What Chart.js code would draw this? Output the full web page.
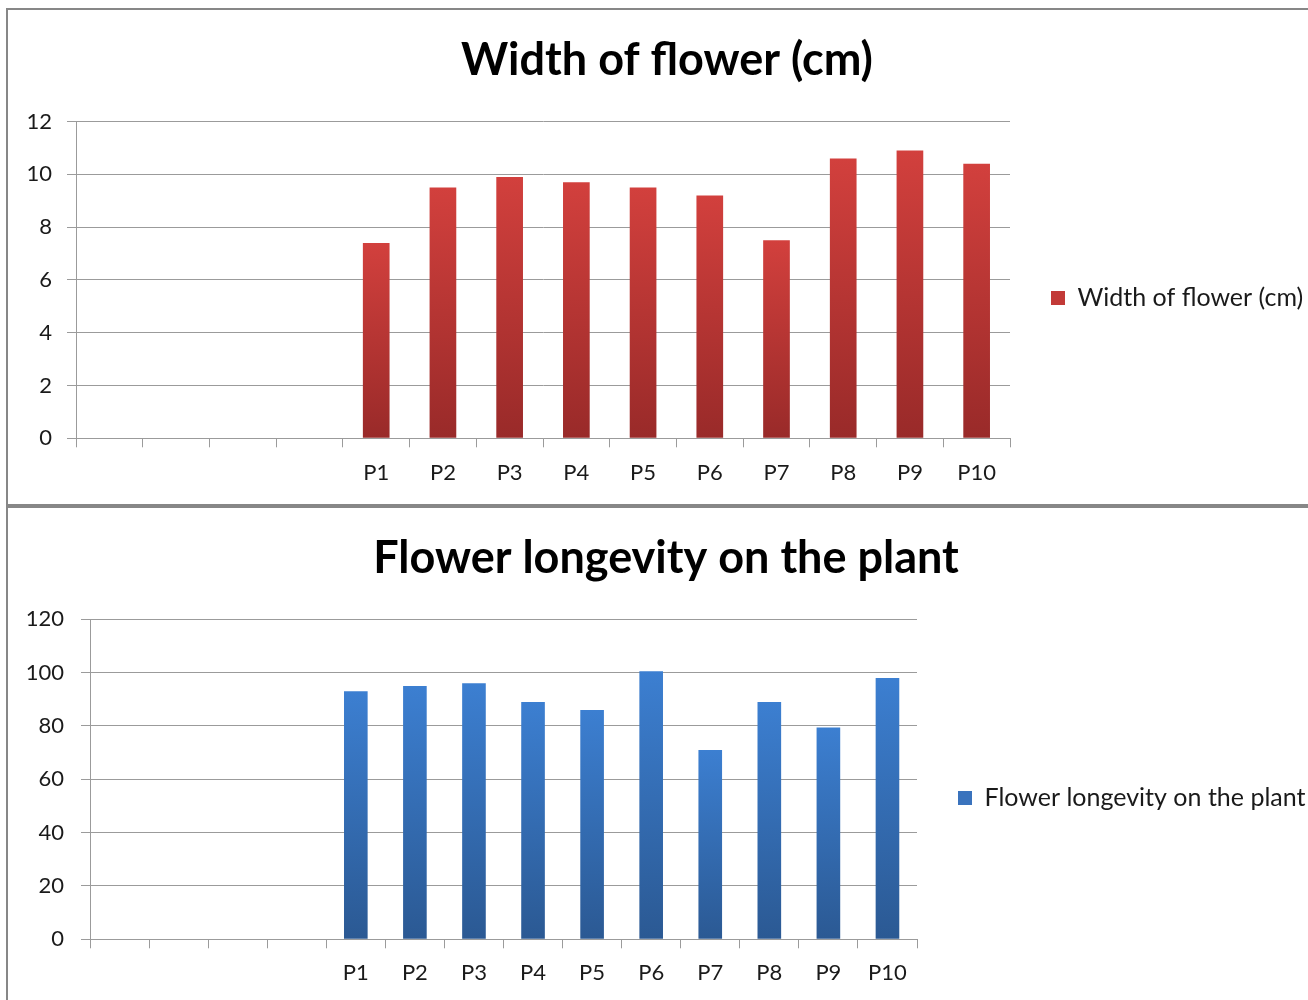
<!DOCTYPE html>
<html><head><meta charset="utf-8">
<script src="https://cdn.jsdelivr.net/npm/chart.js@4.4.1/dist/chart.umd.min.js"></script>
<style>
html,body{margin:0;padding:0;background:#fff;overflow:hidden;width:1308px;height:1000px;}
.panel{position:absolute;left:6px;border:2px solid #878787;background:#fff;overflow:hidden;}
#p1{top:8px;width:1330px;height:494px;}
#p2{top:506px;width:1330px;height:500px;}
canvas{position:absolute;left:0;top:0;}
</style></head>
<body>
<div class="panel" id="p1"><canvas id="c1" width="1318" height="494"></canvas></div>
<div class="panel" id="p2"><canvas id="c2" width="1316" height="492"></canvas></div>
<script>
// ---- data ----
const categories = ['', '', '', '', 'P1', 'P2', 'P3', 'P4', 'P5', 'P6', 'P7', 'P8', 'P9', 'P10'];
const widthValues = [null, null, null, null, 7.4, 9.5, 9.9, 9.7, 9.5, 9.2, 7.5, 10.6, 10.9, 10.4];
const longevityValues = [null, null, null, null, 93, 95, 96, 89, 86, 100.5, 71, 89, 79.4, 98];
const widthTitle = 'Width of flower (cm)';
const longevityTitle = 'Flower longevity on the plant';
const widthAxis = [0, 12, 2];      // min, max, step
const longevityAxis = [0, 120, 20];

const FONT = 'Lato, "Open Sans", sans-serif';
const GRID = '#9b9b9b';
const TXT = '#1a1a1a';

function barGradient(top, bottom, solid) {
  return ctx => {
    if (ctx.type !== 'data') return solid;
    const chart = ctx.chart;
    const v = ctx.raw;
    if (v == null || !chart.chartArea) return solid;
    const ys = chart.scales.y;
    const y0 = ys.getPixelForValue(v), y1 = ys.getPixelForValue(0);
    if (!isFinite(y0) || !isFinite(y1)) return solid;
    const g = chart.ctx.createLinearGradient(0, y0, 0, y1);
    g.addColorStop(0, top);
    g.addColorStop(1, bottom);
    return g;
  };
}

function legendFix(width, shift) {
  return {
    id: 'legendFix',
    beforeLayout(chart) {
      const lg = chart.legend;
      if (lg && !lg._fixed) {
        const orig = lg.fit.bind(lg);
        lg.fit = function () { orig(); this.width = width; };
        lg._fixed = true;
      }
    },
    afterLayout(chart) {
      const lg = chart.legend;
      if (lg) { lg.top += shift; lg.bottom += shift; }
    }
  };
}

function makeChart(id, title, values, axis, colors, opts) {
  return new Chart(document.getElementById(id), {
    type: 'bar',
    data: {
      labels: categories,
      datasets: [{
        label: title,
        data: values,
        backgroundColor: barGradient(colors[0], colors[1], colors[2]),
        borderWidth: 0,
        barPercentage: 0.8,
        categoryPercentage: 0.5
      }]
    },
    options: {
      responsive: false,
      animation: false,
      layout: { padding: 0 },
      plugins: {
        title: {
          display: true, text: title, color: '#000',
          font: { family: FONT, size: 45, weight: 'bold' },
          padding: { top: 23, bottom: opts.titleBottom }
        },
        legend: {
          display: true, position: 'right', align: 'center',
          labels: {
            boxWidth: 14, boxHeight: 14, padding: 41, color: TXT,
            font: { family: FONT, size: 25 }
          }
        },
        tooltip: { enabled: false }
      },
      scales: {
        x: {
          offset: true,
          grid: { offset: true, drawOnChartArea: false, drawTicks: true, tickLength: 9, color: GRID, lineWidth: 1 },
          border: { color: GRID, width: 1 },
          ticks: { font: { family: FONT, size: 22 }, color: TXT, padding: opts.xPad, maxRotation: 0, autoSkip: false },
          afterFit: s => { s.height = opts.xHeight; }
        },
        y: {
          min: axis[0], max: axis[1],
          ticks: { stepSize: axis[2], font: { family: FONT, size: 22 }, color: TXT, padding: opts.yPad },
          grid: { color: GRID, lineWidth: 1, tickLength: 9, drawTicks: true },
          border: { color: GRID, width: 1 },
          afterFit: s => { s.width = opts.yWidth; }
        }
      }
    },
    plugins: [legendFix(opts.legendWidth, opts.legendShift)]
  });
}

makeChart('c1', widthTitle, widthValues, widthAxis, ['#d2403d', '#992a29', '#c23a37'],
  { titleBottom: 34.5, xPad: 12.5, xHeight: 65.7, yPad: 15, yWidth: 68, legendWidth: 316, legendShift: 41 });
makeChart('c2', longevityTitle, longevityValues, longevityAxis, ['#3c7fd1', '#2b5993', '#3a73bd'],
  { titleBottom: 34.3, xPad: 11.5, xHeight: 60.7, yPad: 17, yWidth: 82, legendWidth: 407, legendShift: 44 });
</script>
</body></html>
